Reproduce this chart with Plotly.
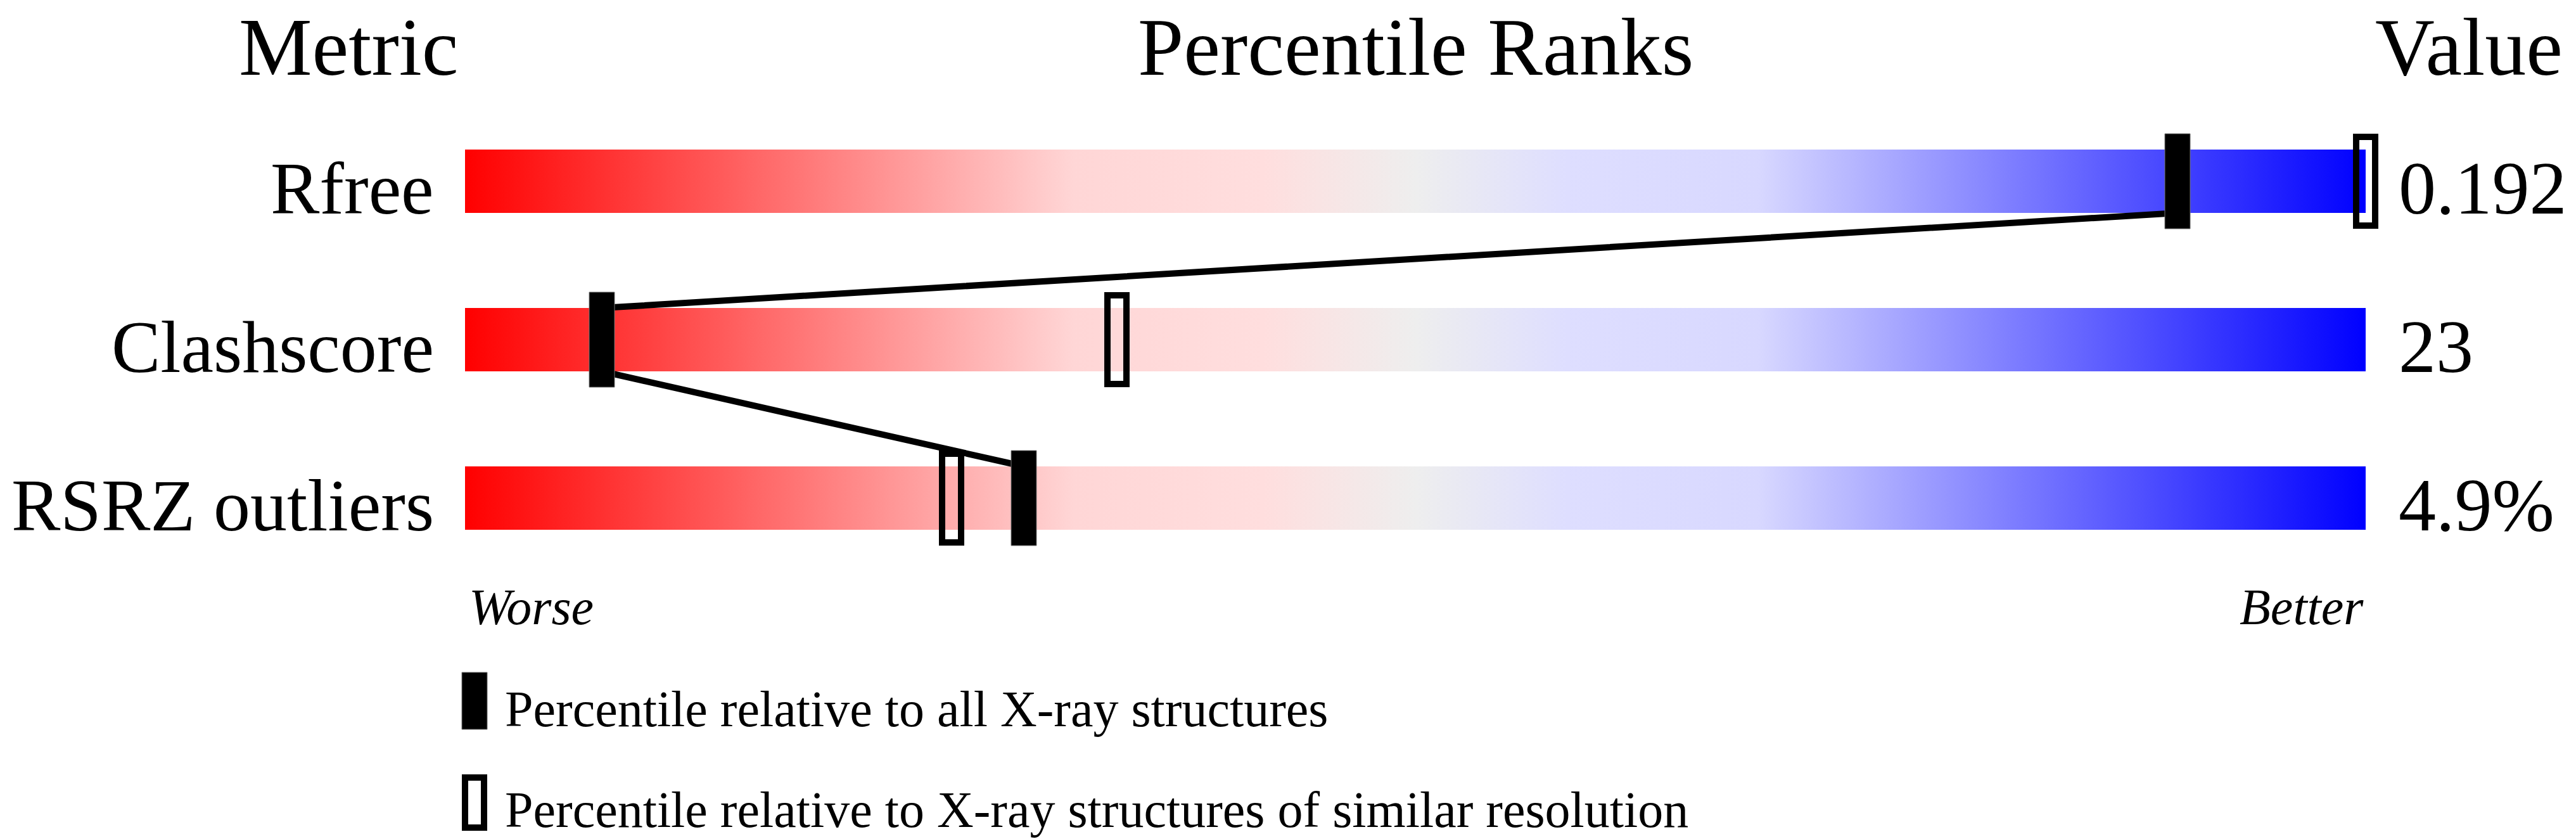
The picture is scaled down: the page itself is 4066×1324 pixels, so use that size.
import plotly.graph_objects as go

# ---------------- data ----------------
metrics = ["Rfree", "Clashscore", "RSRZ outliers"]
values = ["0.192", "23", "4.9%"]
pct_all = [90.1, 7.2, 29.4]          # percentile relative to all X-ray structures
pct_similar = [100.0, 34.3, 25.6]    # percentile relative to similar resolution
headers = ["Metric", "Percentile Ranks", "Value"]
scale_labels = ["Worse", "Better"]
legend_labels = [
    "Percentile relative to all X-ray structures",
    "Percentile relative to X-ray structures of similar resolution",
]

# ---------------- layout constants ----------------
W, H = 4066, 1324
BAR_L, PX_PER = 734, 30.0      # pixel of 0th percentile, pixels per percentile unit
ROW0, ROW_STEP = 286, 250      # pixel centre of first row, pixels between rows
FONT = "Liberation Serif, 'Times New Roman', Times, serif"

def px_x(p):
    return p / W

def px_y(p):
    return 1 - p / H

colorscale = [
    [0.0, "#FF0000"],
    [0.32, "#FFD6D6"],
    [0.42, "#FFDEDE"],
    [0.5, "#EEEEEE"],
    [0.58, "#DEDEFF"],
    [0.68, "#D8D8FF"],
    [1.0, "#0000FF"],
]

BAR_HALF = 50 / ROW_STEP          # bar half height in row units
MK_HALF_H = 75 / ROW_STEP         # marker half height
MK_HALF_W = 20 / PX_PER           # marker half width
OPEN_HALF_H = 70 / ROW_STEP
OPEN_HALF_W = 15 / PX_PER

fig = go.Figure()

# gradient bars
for r, m in enumerate(metrics):
    fig.add_trace(go.Scatter(
        x=[0, 100, 100, 0, 0],
        y=[r - BAR_HALF, r - BAR_HALF, r + BAR_HALF, r + BAR_HALF, r - BAR_HALF],
        mode="lines", fill="toself",
        fillgradient=dict(type="horizontal", colorscale=colorscale, start=0, stop=100),
        line=dict(width=0), hoverinfo="skip", showlegend=False, name=m,
    ))

# connecting line between "all" markers (from bottom of one bar to top of the next)
lx, ly = [], []
for r, v in enumerate(pct_all):
    if r > 0:
        lx.append(v)
        ly.append(r - BAR_HALF)
    if r < len(pct_all) - 1:
        lx.append(v)
        ly.append(r + BAR_HALF)
fig.add_trace(go.Scatter(x=lx, y=ly, mode="lines", line=dict(color="black", width=10),
                         hoverinfo="skip", showlegend=False))

shapes = []
for r, (va, vs) in enumerate(zip(pct_all, pct_similar)):
    # similar-resolution (open) marker
    shapes.append(dict(type="rect", xref="x", yref="y", layer="above",
                       x0=vs - OPEN_HALF_W, x1=vs + OPEN_HALF_W,
                       y0=r - OPEN_HALF_H, y1=r + OPEN_HALF_H,
                       line=dict(color="black", width=10), fillcolor="rgba(0,0,0,0)"))
    # all-structures (filled) marker
    shapes.append(dict(type="rect", xref="x", yref="y", layer="above",
                       x0=va - MK_HALF_W, x1=va + MK_HALF_W,
                       y0=r - MK_HALF_H, y1=r + MK_HALF_H,
                       line=dict(color="#777777", width=1), fillcolor="black"))

# legend swatches
shapes.append(dict(type="rect", xref="paper", yref="paper", layer="above",
                   x0=px_x(729), x1=px_x(769), y0=px_y(1151), y1=px_y(1061),
                   line=dict(color="#777777", width=1), fillcolor="black"))
shapes.append(dict(type="rect", xref="paper", yref="paper", layer="above",
                   x0=px_x(734), x1=px_x(764), y0=px_y(1306), y1=px_y(1227),
                   line=dict(color="black", width=10), fillcolor="rgba(0,0,0,0)"))

ann = []
def text(t, x, y_base, size, anchor, italic=False):
    y_c = y_base - 0.3375 * size
    ann.append(dict(text=t, x=px_x(x), y=px_y(y_c), xref="paper", yref="paper",
                    xanchor=anchor, yanchor="middle", showarrow=False,
                    font=dict(family=FONT, size=size, color="black",
                              style="italic" if italic else "normal")))

# headers: anchored to the top edge so that nothing is clipped
for h, cx in zip(headers, [550, 2234, 3897]):
    ann.append(dict(text=h, x=px_x(cx), y=1.0, xref="paper", yref="paper",
                    xanchor="center", yanchor="top", showarrow=False,
                    font=dict(family=FONT, size=130, color="black")))

# row labels and values
for r, (m, v) in enumerate(zip(metrics, values)):
    base = ROW0 + ROW_STEP * r + 51
    text(m, 687, base, 116, "right")
    text(v, 3784, base, 118, "left")

# worse / better
text(scale_labels[0], 738, 985, 80, "left", italic=True)
text(scale_labels[1], 3733, 985, 80, "right", italic=True)

# legend texts
text(legend_labels[0], 795, 1146, 80, "left")
text(legend_labels[1], 795, 1305, 80, "left")

fig.update_layout(
    width=W, height=H,
    margin=dict(l=0, r=0, t=0, b=0, pad=0),
    paper_bgcolor="white", plot_bgcolor="white",
    showlegend=False,
    xaxis=dict(range=[-BAR_L / PX_PER, (W - BAR_L) / PX_PER], visible=False, fixedrange=True),
    yaxis=dict(range=[(H - ROW0) / ROW_STEP, -ROW0 / ROW_STEP], visible=False, fixedrange=True),
    shapes=shapes, annotations=ann,
)

fig.write_html("out.html", config={"displayModeBar": False},
               post_script="document.body.style.margin='0';")
